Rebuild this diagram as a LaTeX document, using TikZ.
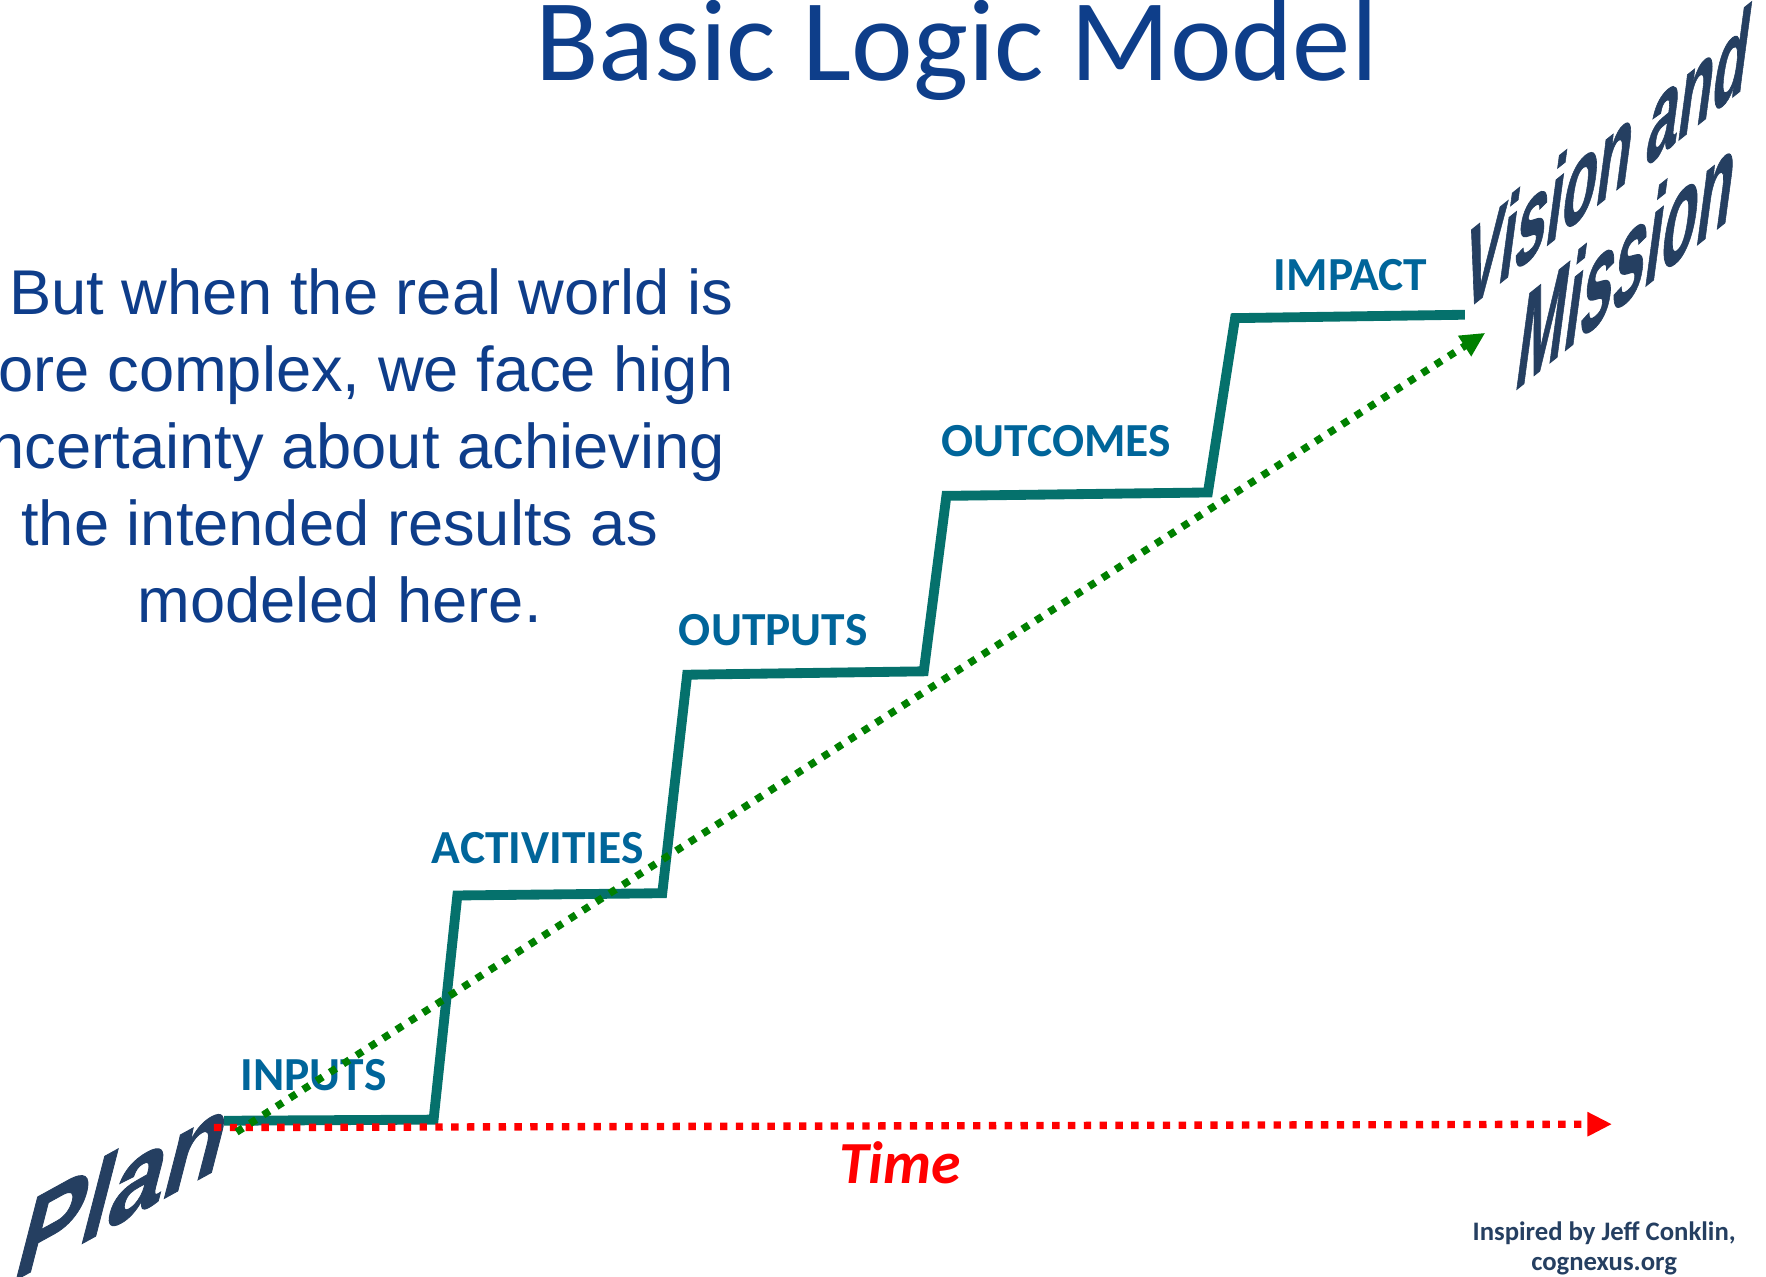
\documentclass[tikz,border=0pt]{standalone}
\usepackage{fontspec}
\setmainfont{Liberation Sans}
\newfontfamily\calibri{Carlito}
\newfontfamily\heavysans[FakeBold=1.0]{Liberation Sans Bold}
\usepackage{xcolor}
\definecolor{TitleBlue}{HTML}{0E3E8A}
\definecolor{TextBlue}{HTML}{0E3D8A}
\definecolor{StageBlue}{HTML}{00659A}
\definecolor{StairTeal}{HTML}{05716C}
\definecolor{InkNavy}{HTML}{253F61}
\definecolor{PathGreen}{HTML}{008000}
\usepackage{tikz}
\usetikzlibrary{positioning,arrows.meta}

\begin{document}
\begin{tikzpicture}[x=0.01132cm, y=-0.01132cm,
    >={Triangle[length=7pt,width=6.5pt]},
    stairline/.style={line width=2.8pt, color=StairTeal},
    dotline/.style={line width=2.1pt, dash pattern=on 2.1pt off 2.4pt},
    stage/.style={inner sep=0pt, anchor=base, text=StageBlue,
    font=\calibri\bfseries\fontsize{13.5}{16}\selectfont},
    slanted/.style={inner sep=0pt, anchor=base west, text=InkNavy}]
    \useasboundingbox (0,0) rectangle (1560,1127.2);
    \clip (0,0) rectangle (1560,1127.2);

    \node [inner sep=0pt, anchor=base, text=TitleBlue,
           font=\calibri\fontsize{33.2}{40}\selectfont] (Title) at (845,71) {Basic Logic Model};

    \node [inner sep=0pt, anchor=base, align=center, text=TextBlue,
           font=\fontsize{18}{21.9}\selectfont] (Body) at (300,550)
          {\hspace*{18pt}But when the real world is\\ more complex, we face high\\
           uncertainty about achieving\\ the intended results as\\ modeled here.};

    \coordinate (S0) at (198,990);
    \coordinate (S1) at (383,989);
    \coordinate (S2) at (404,791);
    \coordinate (S3) at (585,789);
    \coordinate (S4) at (607,596);
    \coordinate (S5) at (816,593);
    \coordinate (S6) at (836,438);
    \coordinate (S7) at (1067,435);
    \coordinate (S8) at (1091,281);
    \coordinate (S9) at (1294,278);
    \draw [stairline] (S0) -- (S1) -- (S2) -- (S3) -- (S4) -- (S5) -- (S6) -- (S7) -- (S8) -- (S9);

    \node [stage] (Inputs) at (277,963) {INPUTS};
    \node [stage] (Activities) at (475,763) {ACTIVITIES};
    \node [stage] (Outputs) at (683,570) {OUTPUTS};
    \node [stage] (Outcomes) at (933,403) {OUTCOMES};
    \node [stage] (Impact) at (1193,257) {IMPACT};

    \node [slanted, font=\heavysans\fontsize{28}{32}\selectfont,
           yslant=0.55, xslant=0.3, xscale=1.0, yscale=1.05] (Plan) at (8,1134) {Plan};
    \node [slanted, font=\heavysans\fontsize{30}{34}\selectfont,
           yslant=0.8, xslant=0.15, xscale=0.535, yscale=1.05] (Vision) at (1289,279) {Vision and};
    \node [slanted, font=\heavysans\fontsize{30}{34}\selectfont,
           yslant=0.8, xslant=0.15, xscale=0.55, yscale=1.18] (Mission) at (1336,347) {Mission};

    \coordinate (TimeStart) at (189,996);
    \coordinate (TimeEnd) at (1424,993);
    \coordinate (PlanStart) at (209,1000);
    \coordinate (VisionEnd) at (1312,294);
    \draw [dotline, ->, color=red] (TimeStart) -- (TimeEnd);
    \draw [dotline, ->, color=PathGreen] (PlanStart) -- (VisionEnd);

    \node [inner sep=0pt, anchor=base, text=red,
           font=\calibri\bfseries\itshape\fontsize{17}{20}\selectfont] (Time) at (795,1045) {Time};
    \node [inner sep=0pt, anchor=base, align=center, text=InkNavy,
           font=\calibri\bfseries\fontsize{7.6}{8.5}\selectfont] (Credit) at (1417,1122)
          {Inspired by Jeff Conklin,\\ cognexus.org};
\end{tikzpicture}
\end{document}
